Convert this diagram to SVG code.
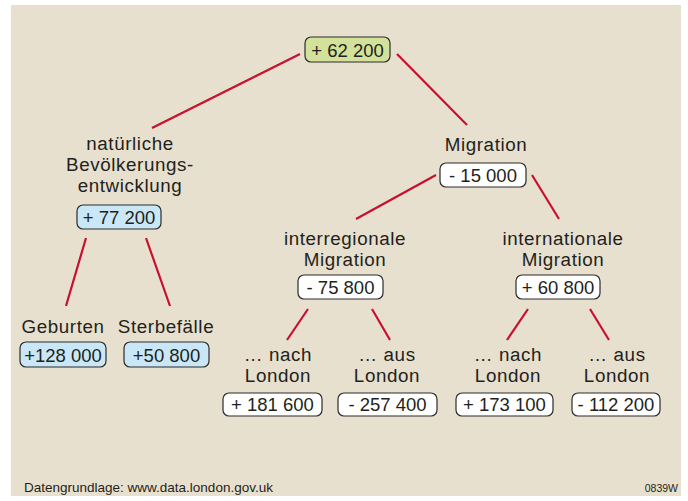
<svg xmlns="http://www.w3.org/2000/svg" width="688" height="501" viewBox="0 0 688 501">
<style>
.t{font-family:"Liberation Sans",Arial,sans-serif;font-size:18.8px;letter-spacing:0.6px;fill:#231f20;text-anchor:middle}
.n{font-family:"Liberation Sans",Arial,sans-serif;font-size:18.5px;fill:#231f20;text-anchor:middle}
.b{stroke:#2b2b2b;stroke-width:1.2}
.w{fill:#ffffff}
.g{fill:#d3e29b}
.c{fill:#c9e7f6}
.l{stroke:#c8102e;stroke-width:2.2;fill:none}
.f{font-family:"Liberation Sans",Arial,sans-serif;fill:#231f20}
</style>
<rect width="688" height="501" fill="#ffffff"/>
<rect x="11" y="5" width="670" height="491" fill="#e8e0ce"/>
<g id="connectors">
<line class="l" x1="300" y1="54" x2="152" y2="128"/>
<line class="l" x1="397" y1="54" x2="467" y2="125"/>
<line class="l" x1="86" y1="238" x2="66" y2="306"/>
<line class="l" x1="146" y1="238" x2="170" y2="306"/>
<line class="l" x1="436" y1="175" x2="356" y2="219"/>
<line class="l" x1="532" y1="175" x2="559" y2="219"/>
<line class="l" x1="308" y1="309" x2="287" y2="340"/>
<line class="l" x1="372" y1="309" x2="390" y2="340"/>
<line class="l" x1="528" y1="309" x2="507" y2="340"/>
<line class="l" x1="590" y1="309" x2="609" y2="340"/>
</g>
<g id="total">
<rect class="b g" x="305" y="37" width="85" height="25" rx="6"/>
<text class="n" x="347.5" y="56.5">+ 62 200</text>
</g>
<g id="natuerlich">
<text class="t" x="130" y="150">natürliche<tspan x="130" dy="21">Bevölkerungs-</tspan><tspan x="130" dy="21">entwicklung</tspan></text>
<rect class="b c" x="77" y="205" width="84" height="24" rx="6"/>
<text class="n" x="119" y="223.5">+ 77 200</text>
</g>
<g id="geburten">
<text class="t" x="63" y="333">Geburten</text>
<rect class="b c" x="20" y="342" width="86" height="25" rx="6"/>
<text class="n" x="63" y="361.5">+128 000</text>
</g>
<g id="sterbefaelle">
<text class="t" x="166" y="333">Sterbefälle</text>
<rect class="b c" x="124" y="342" width="85" height="25" rx="6"/>
<text class="n" x="166.5" y="361.5">+50 800</text>
</g>
<g id="migration">
<text class="t" x="486" y="151">Migration</text>
<rect class="b w" x="440" y="163" width="86" height="24" rx="6"/>
<text class="n" x="483" y="181.5">- 15 000</text>
</g>
<g id="interregional">
<text class="t" x="345" y="245">interregionale<tspan x="345" dy="21">Migration</tspan></text>
<rect class="b w" x="298" y="275" width="85" height="24" rx="6"/>
<text class="n" x="340.5" y="293.5">- 75 800</text>
</g>
<g id="international">
<text class="t" x="563" y="245">internationale<tspan x="563" dy="21">Migration</tspan></text>
<rect class="b w" x="516" y="275" width="84" height="24" rx="6"/>
<text class="n" x="558" y="293.5">+ 60 800</text>
</g>
<g id="ir-nach">
<text class="t" x="278" y="361">… nach<tspan x="278" dy="21">London</tspan></text>
<rect class="b w" x="223" y="393" width="99" height="23" rx="6"/>
<text class="n" x="272.5" y="411">+ 181 600</text>
</g>
<g id="ir-aus">
<text class="t" x="387" y="361">… aus<tspan x="387" dy="21">London</tspan></text>
<rect class="b w" x="338" y="393" width="99" height="23" rx="6"/>
<text class="n" x="387.5" y="411">- 257 400</text>
</g>
<g id="in-nach">
<text class="t" x="508" y="361">… nach<tspan x="508" dy="21">London</tspan></text>
<rect class="b w" x="456" y="393" width="97" height="23" rx="6"/>
<text class="n" x="504.5" y="411">+ 173 100</text>
</g>
<g id="in-aus">
<text class="t" x="617" y="361">… aus<tspan x="617" dy="21">London</tspan></text>
<rect class="b w" x="572" y="393" width="88" height="23" rx="6"/>
<text class="n" x="616" y="411">- 112 200</text>
</g>
<g id="footer">
<text class="f" x="24" y="492" font-size="13.5">Datengrundlage: www.data.london.gov.uk</text>
<text class="f" x="678" y="492" font-size="10.5" text-anchor="end">0839W</text>
</g>
</svg>
